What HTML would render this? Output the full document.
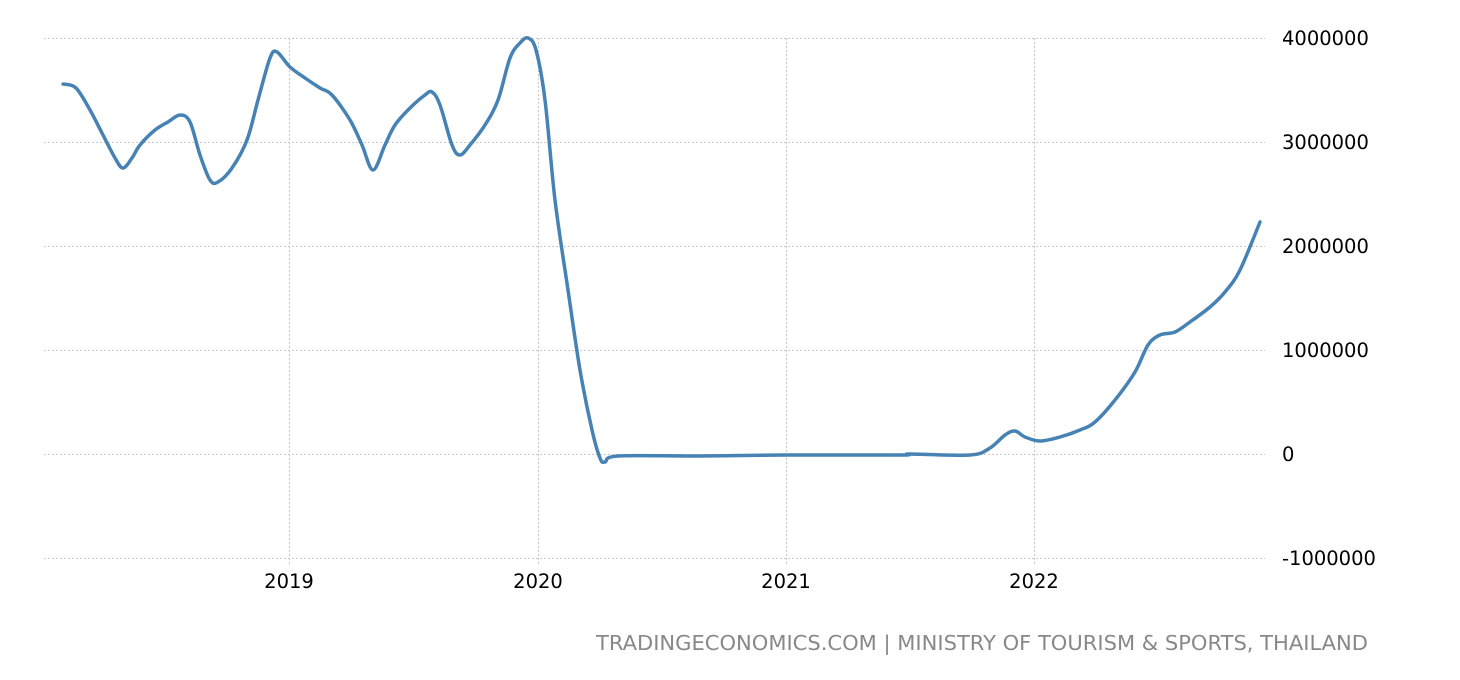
<!DOCTYPE html>
<html><head><meta charset="utf-8"><style>
html,body{margin:0;padding:0;background:#fff;}
svg{display:block;}
text{font-family:"DejaVu Sans","Liberation Sans",sans-serif;}
</style></head><body>
<svg width="1460" height="680" viewBox="0 0 1460 680" xmlns="http://www.w3.org/2000/svg">
<g stroke="#c8c8c8" stroke-width="1" stroke-dasharray="2,2">
<line x1="44" y1="38.5" x2="1265" y2="38.5"/>
<line x1="44" y1="142.5" x2="1265" y2="142.5"/>
<line x1="44" y1="246.5" x2="1265" y2="246.5"/>
<line x1="44" y1="350.5" x2="1265" y2="350.5"/>
<line x1="44" y1="454.5" x2="1265" y2="454.5"/>
<line x1="44" y1="558.5" x2="1265" y2="558.5"/>
<line x1="289.5" y1="38" x2="289.5" y2="566"/>
<line x1="538.5" y1="38" x2="538.5" y2="566"/>
<line x1="786.5" y1="38" x2="786.5" y2="566"/>
<line x1="1034.5" y1="38" x2="1034.5" y2="566"/>
</g>
<polyline id="ln" fill="none" stroke="#4682b4" stroke-width="3.5" stroke-linejoin="round" stroke-linecap="round"
points="63,84 76,88 90,110 103,135 115,158 123,168 132,158 140,145 155,130 168,122 180,115 190,122 200,155 210,180 218,182 232,168 247,140 258,100 270,58 277,52 290,67 305,78 320,88 332,95 350,120 362,145 373,170 385,145 395,125 410,108 425,95 432,92 440,105 452,145 460,155 470,145 485,125 498,100 510,58 520,43 528,38 536,50 545,100 555,200 568,290 580,370 592,430 600,458 605,462 618,456 700,456 786,455 900,455 910,454 970,455 990,448 1005,435 1015,431 1025,437 1040,441 1060,437 1080,430 1095,422 1115,400 1135,372 1148,345 1160,335 1175,332 1190,322 1210,307 1225,292 1240,270 1260,222"/>
<g font-size="19.5" fill="#000">
<text x="1282" y="45">4000000</text>
<text x="1282" y="149">3000000</text>
<text x="1282" y="253">2000000</text>
<text x="1282" y="357">1000000</text>
<text x="1282" y="461">0</text>
<text x="1282" y="565">-1000000</text>
<text x="289" y="588" text-anchor="middle">2019</text>
<text x="538" y="588" text-anchor="middle">2020</text>
<text x="786" y="588" text-anchor="middle">2021</text>
<text x="1034" y="588" text-anchor="middle">2022</text>
</g>
<text x="596" y="650" font-size="20" fill="#888" textLength="772" lengthAdjust="spacingAndGlyphs">TRADINGECONOMICS.COM | MINISTRY OF TOURISM &amp; SPORTS, THAILAND</text>
</svg>
<script>
(function(){
var pl=document.getElementById('ln');
var pts=pl.getAttribute('points').trim().split(/\s+/).map(function(s){return s.split(',').map(Number);});
var d='M'+pts[0][0]+','+pts[0][1];
for(var i=0;i<pts.length-1;i++){
var p0=pts[i-1]||pts[i],p1=pts[i],p2=pts[i+1],p3=pts[i+2]||p2;
var c1x=p1[0]+(p2[0]-p0[0])/6,c1y=p1[1]+(p2[1]-p0[1])/6;
var c2x=p2[0]-(p3[0]-p1[0])/6,c2y=p2[1]-(p3[1]-p1[1])/6;
d+=' C'+c1x+','+c1y+' '+c2x+','+c2y+' '+p2[0]+','+p2[1];
}
var p=document.createElementNS('http://www.w3.org/2000/svg','path');
p.setAttribute('d',d);p.setAttribute('fill','none');p.setAttribute('stroke','#4682b4');
p.setAttribute('stroke-width','3.5');p.setAttribute('stroke-linecap','round');
pl.parentNode.replaceChild(p,pl);
})();
</script>
</body></html>
